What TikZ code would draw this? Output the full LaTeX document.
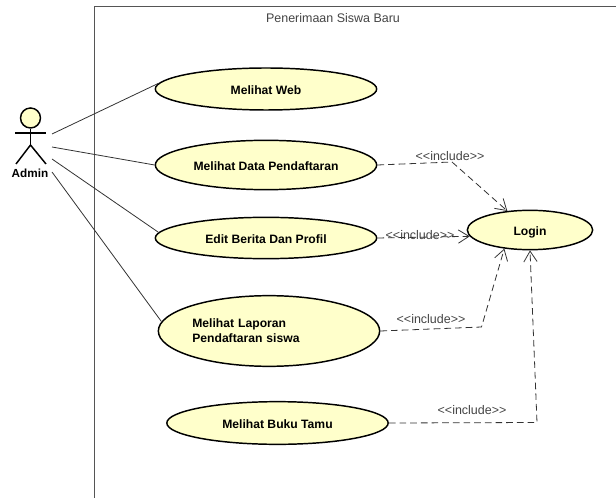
\documentclass[tikz,border=0pt]{standalone}
\usepackage{fontspec}
\setmainfont{Liberation Sans}
\usetikzlibrary{arrows.meta, shapes.geometric}
\definecolor{usecasefill}{HTML}{FFFFCB}
\definecolor{framegray}{HTML}{555555}
\definecolor{labelgray}{HTML}{444444}

\begin{document}
\begin{tikzpicture}[
            x=0.75pt, y=-0.75pt,
            usecase/.style={ellipse, draw=black, fill=usecasefill, inner sep=0pt,
                        text height=9.5pt, text depth=1.3pt,
                        line width=1.1pt, font=\fontsize{9.1}{11.25}\selectfont\bfseries},
            assoc/.style={line width=0.6pt, color=black!80},
            include/.style={-{Straight Barb[length=8pt, width=10pt, line width=0.6pt]}, dashed,
                        dash pattern=on 5pt off 3pt, line width=0.6pt, color=black!80},
            stereo/.style={font=\fontsize{9.35}{11}\selectfont, text=labelgray, inner sep=0pt},
            actorline/.style={line width=1.1pt, color=black}
        ]
            \useasboundingbox (0,0) rectangle (616,498);

            % System boundary
            \coordinate (framebottom) at (94,498);
            \coordinate (framecorner) at (94,6);
            \coordinate (frameright) at (616,6);
            \draw[line width=0.6pt, color=framegray] (framebottom) -- (framecorner) -- (frameright);
            \node[stereo] (systemtitle) at (333,18) {Penerimaan Siswa Baru};

            % Use cases
            \node[usecase, minimum width=166pt, minimum height=31.5pt] (web) at (266,89) {Melihat Web};
            \node[usecase, minimum width=166pt, minimum height=37pt] (data) at (266,165) {Melihat Data Pendaftaran};
            \node[usecase, minimum width=166pt, minimum height=31pt] (edit) at (266,238) {Edit Berita Dan Profil};
            \node[usecase, minimum width=166pt, minimum height=53pt, text width=115pt, align=left, text height=, text depth=] (laporan) at (269,331) {Melihat Laporan\\Pendaftaran siswa};
            \node[usecase, minimum width=166pt, minimum height=32pt] (buku) at (277.5,423) {Melihat Buku Tamu};
            \node[usecase, minimum width=94pt, minimum height=29.5pt] (login) at (530,230) {Login};

            % Actor
            \node[circle, draw=black, fill=usecasefill, line width=1.1pt, minimum size=15pt, inner sep=0pt] (adminhead) at (30.5,118) {};
            \coordinate (armleft) at (15,133);
            \coordinate (armright) at (46,133);
            \coordinate (hip) at (30.5,145);
            \coordinate (footleft) at (16,164);
            \coordinate (footright) at (46,164);
            \draw[actorline] (adminhead) -- (hip);
            \draw[actorline] (armleft) -- (armright);
            \draw[actorline] (footleft) -- (hip) -- (footright);
            \node[font=\fontsize{8.8}{10}\selectfont\bfseries, inner sep=0pt] (admin) at (30,173) {Admin};

            % Associations
            \coordinate (adminweb) at (52,134);
            \coordinate (admindata) at (52,147);
            \coordinate (adminedit) at (52,159);
            \coordinate (adminlaporan) at (52,172);
            \draw[assoc] (adminweb) -- (web.177);
            \draw[assoc] (admindata) -- (data.west);
            \draw[assoc] (adminedit) -- (edit.177);
            \draw[assoc] (adminlaporan) -- (laporan.175);

            % Include links
            \coordinate (databend) at (452,162);
            \coordinate (laporanbend) at (481.5,327);
            \coordinate (bukubend) at (537,422.5);
            \draw[include] (data.east) -- (databend) -- (login.140);
            \draw[include] (edit.east) -- (login.186);
            \draw[include] (laporan.east) -- (laporanbend) -- (login.216);
            \draw[include] (buku.east) -- (bukubend) -- (login.south);

            \node[stereo] (incdata) at (450,156) {<{}<include>{}>};
            \node[stereo] (incedit) at (420,235) {<{}<include>{}>};
            \node[stereo] (inclaporan) at (431,319) {<{}<include>{}>};
            \node[stereo] (incbuku) at (472,410) {<{}<include>{}>};
        \end{tikzpicture}
\end{document}
